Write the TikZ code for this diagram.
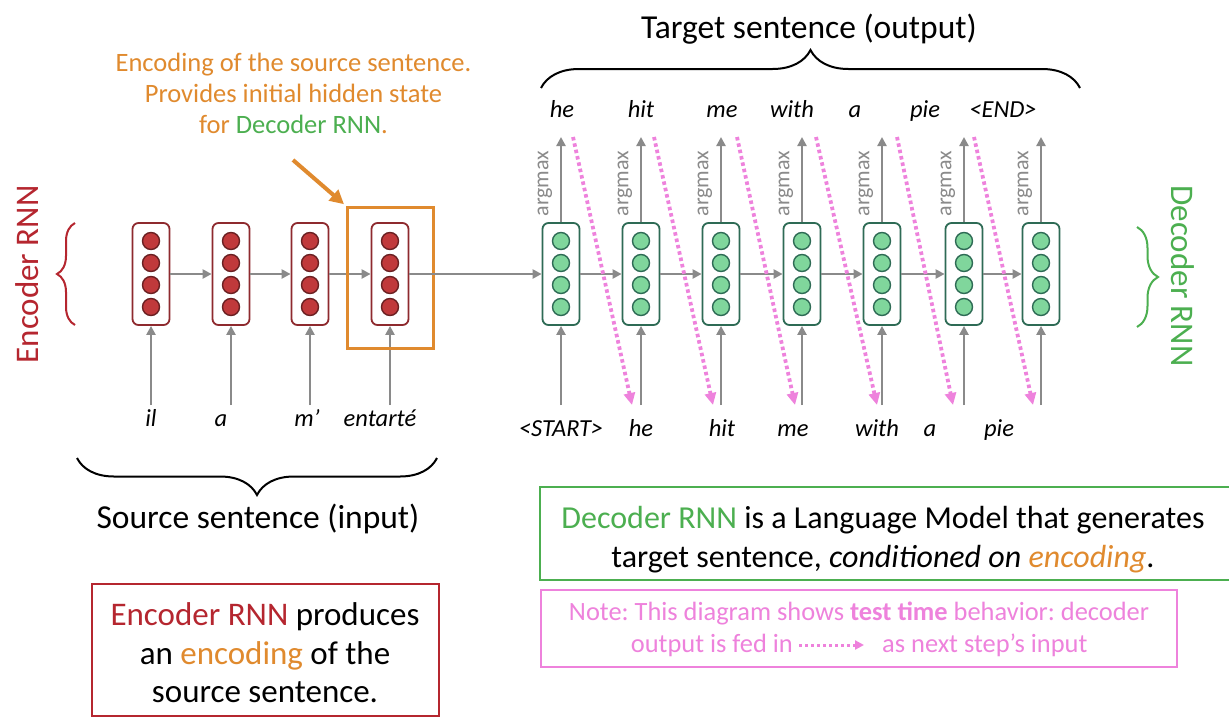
\documentclass[tikz,border=0pt]{standalone}
\usepackage{fontspec}
\setmainfont{Carlito}
\frenchspacing
\usetikzlibrary{arrows.meta,decorations.pathreplacing}
\definecolor{encred}{HTML}{8E2A2E}
\definecolor{encfill}{HTML}{C0393B}
\definecolor{txtred}{HTML}{B5262F}
\definecolor{decgreen}{HTML}{2E6B55}
\definecolor{decfill}{HTML}{80D69C}
\definecolor{txtgreen}{HTML}{4CAF50}
\definecolor{orng}{HTML}{E08A2E}
\definecolor{pnk}{HTML}{EE82DC}
\definecolor{arrgray}{HTML}{8A8A8A}
\begin{document}
\begin{tikzpicture}[x=1pt,y=-1pt,
  enccell/.style={draw=encred, line width=1.8pt, rounded corners=6pt, minimum width=37pt, minimum height=102pt, inner sep=0pt},
  deccell/.style={draw=decgreen, line width=1.8pt, rounded corners=6pt, minimum width=37pt, minimum height=102pt, inner sep=0pt},
  encdot/.style={circle, draw=encred!75!black, fill=encfill, line width=1.4pt, minimum size=17pt, inner sep=0pt},
  decdot/.style={circle, draw=decgreen, fill=decfill, line width=1.4pt, minimum size=17pt, inner sep=0pt},
  garrow/.style={draw=arrgray, line width=2.5pt, -{Triangle[length=9pt,width=9pt]}},
  pinkarrow/.style={draw=pnk, line width=3.8pt, dash pattern=on 3.5pt off 3pt, -{Triangle[length=12pt,width=11pt]}},
  word/.style={font=\fontsize{24.5}{28}\selectfont\itshape, anchor=base, inner sep=0pt},
  argm/.style={font=\fontsize{22}{26}\selectfont, text=arrgray, rotate=90, inner sep=0pt},
  bigtext/.style={font=\fontsize{33.5}{38.5}\selectfont, inner sep=0pt},
  notetext/.style={text=pnk, font=\fontsize{26.4}{33}\selectfont, inner sep=0pt},
  bracestyle/.style={decorate, line width=2pt},
]
\useasboundingbox[fill=white] (0,0) rectangle (1229,718);

% ---------- encoder ----------
\foreach \i/\x in {1/151,2/231,3/310,4/390} {
  \node[enccell] (e\i) at (\x,274) {};
  \foreach \k/\dy in {1/-33,2/-11,3/11,4/33}
    \node[encdot] (e\i c\k) at (\x,274+\dy) {};
  \coordinate (ein\i) at (\x,405);
  \draw[garrow] (ein\i) -- (e\i.south);
}
\foreach \a/\b in {1/2,2/3,3/4} \draw[garrow] (e\a.east) -- (e\b.west);

\node[word] (w1) at (151,426) {il};
\node[word] (w2) at (221,426) {a};
\node[word] (w3) at (307,426) {m’};
\node[word] (w4) at (380,426) {entarté};

\node[draw=orng, line width=3pt, minimum width=86pt, minimum height=141pt] (encbox) at (390,277.5) {};

% ---------- decoder ----------
\foreach \i/\x in {1/561,2/641,3/721,4/802,5/882,6/964,7/1041} {
  \node[deccell] (d\i) at (\x,274) {};
  \foreach \k/\dy in {1/-33,2/-11,3/11,4/33}
    \node[decdot] (d\i c\k) at (\x,274+\dy) {};
  \coordinate (din\i) at (\x,405);
  \coordinate (dout\i) at (\x,137);
  \draw[garrow] (din\i) -- (d\i.south);
  \draw[garrow] (d\i.north) -- (dout\i);
  \node[argm] (am\i) at (\x-16,183.5) {argmax};
}
\foreach \a/\b in {1/2,2/3,3/4,4/5,5/6,6/7} \draw[garrow] (d\a.east) -- (d\b.west);
\draw[garrow] (e4.east) -- (d1.west);

% output words
\node[word] (o1) at (562,117) {he};
\node[word] (o2) at (641,117) {hit};
\node[word] (o3) at (722,117) {me};
\node[word] (o4) at (792,117) {with};
\node[word] (o5) at (855,117) {a};
\node[word] (o6) at (925,117) {pie};
\node[word] (o7) at (1003,117) {<END>};
% input words
\node[word] (i1) at (561,436) {<START>};
\node[word] (i2) at (641,436) {he};
\node[word] (i3) at (722,436) {hit};
\node[word] (i4) at (793,436) {me};
\node[word] (i5) at (877,436) {with};
\node[word] (i6) at (930,436) {a};
\node[word] (i7) at (999,436) {pie};

% pink feed arrows
\foreach \i/\sx/\ex in {1/573/632,2/654/713,3/737/795,4/816/877,5/897/953,6/974/1033} {
  \coordinate (ps\i) at (\sx,137);
  \coordinate (pe\i) at (\ex,405);
  \draw[pinkarrow] (ps\i) -- (pe\i);
}

% ---------- braces and labels ----------
\draw[bracestyle, decoration={brace, amplitude=38pt}] (541,88) -- (1080,88);
\node[bigtext, anchor=base] (tgt) at (809,38) {Target sentence (output)};

\draw[bracestyle, decoration={brace, amplitude=37pt}] (437,458) -- (77,458);
\node[bigtext, anchor=base] (src) at (258,528) {Source sentence (input)};

\draw[bracestyle, draw=txtred, decoration={brace, amplitude=18pt}] (75,325) -- (75,223);
\node[font=\fontsize{33}{36}\selectfont, text=txtred, rotate=90, inner sep=0pt] (enclab) at (27,274.5) {Encoder RNN};

\draw[bracestyle, draw=txtgreen, decoration={brace, amplitude=21pt}] (1137,227) -- (1137,327);
\node[font=\fontsize{33}{36}\selectfont, text=txtgreen, rotate=-90, inner sep=0pt] (declab) at (1183,276) {Decoder RNN};

% ---------- orange annotation ----------
\node[align=center, text=orng, font=\fontsize{26.5}{31}\selectfont, inner sep=0pt] (anno) at (293.5,93)
  {Encoding of the source sentence.\\Provides initial hidden state\\for \textcolor{txtgreen}{Decoder RNN}.};
\coordinate (oa) at (293,160);
\draw[draw=orng, line width=4pt, -{Triangle[length=14pt,width=14pt]}, shorten >=2pt] (oa) -- (encbox.north west);

% ---------- bottom boxes ----------
\node[draw=txtred, line width=2pt, minimum width=347pt, minimum height=132pt] (encnote) at (265.5,650) {};
\node[align=center, font=\fontsize{33}{38.5}\selectfont, inner sep=0pt] (encnotetext) at (265,653)
  {\textcolor{txtred}{Encoder RNN} produces\\an \textcolor{orng}{encoding} of the\\source sentence.};

\draw[draw=txtgreen, line width=2.5pt] (540,487) rectangle (1240,580);
\node[align=center, font=\fontsize{32}{39}\selectfont, inner sep=0pt] (decnote) at (883,540)
  {\textcolor{txtgreen}{Decoder RNN} is a Language Model that generates\\target sentence, \textit{conditioned on \textcolor{orng}{encoding}}.};

\draw[draw=pnk, line width=2.5pt] (541,590) rectangle (1177,667);
\node[notetext, anchor=base] (n1) at (859,620)
  {Note: This diagram shows \textbf{test time} behavior: decoder};
\node[notetext, anchor=base east] (n2a) at (793,652) {output is fed in};
\node[notetext, anchor=base west] (n2b) at (882,652) {as next step’s input};
\coordinate (na) at (799,645);
\coordinate (nb) at (864,645);
\draw[draw=pnk, line width=3pt, dash pattern=on 2.5pt off 3.5pt, -{Triangle[length=9pt,width=9pt]}] (na) -- (nb);
\end{tikzpicture}
\end{document}
